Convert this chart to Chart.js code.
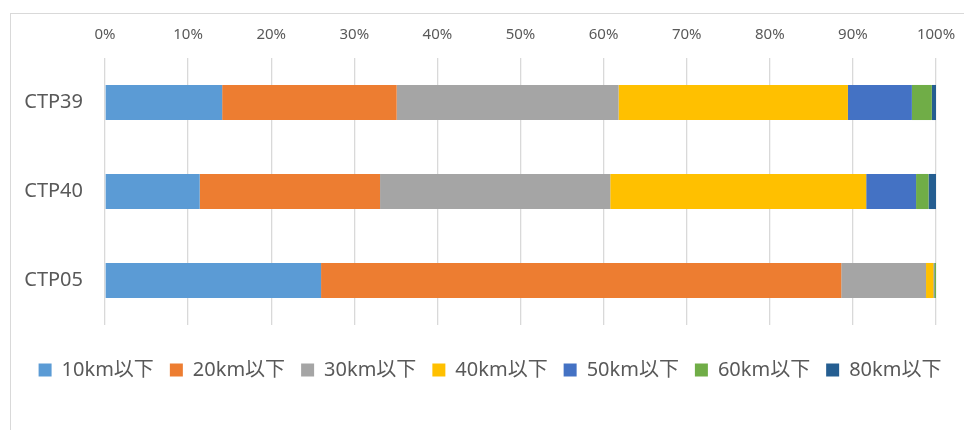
<!DOCTYPE html>
<html>
<head>
<meta charset="utf-8">
<script src="https://cdn.jsdelivr.net/npm/chart.js@4"></script>
<style>
  html, body { margin: 0; padding: 0; background: #fff; overflow: hidden; }
  .frame { position: absolute; left: 10px; top: 13px; width: 1000px; height: 500px; border: 1px solid #d9d9d9; }
  .wrap { position: absolute; left: 0; top: 0; width: 964px; height: 430px; }
</style>
</head>
<body>
<div class="frame"></div>
<div class="wrap"><canvas id="chart" width="964" height="430"></canvas></div>
<script>
const categories = ['CTP39', 'CTP40', 'CTP05'];
const seriesNames = ['10km以下', '20km以下', '30km以下', '40km以下', '50km以下', '60km以下', '80km以下'];
const km10 = [14.1, 11.4, 26.0];
const km20 = [21.0, 21.7, 62.6];
const km30 = [26.7, 27.7, 10.2];
const km40 = [27.6, 30.8, 0.9];
const km50 = [7.7, 6.0, 0.1];
const km60 = [2.4, 1.5, 0.2];
const km80 = [0.5, 0.9, 0];
const tickValues = [0, 10, 20, 30, 40, 50, 60, 70, 80, 90, 100];
const colors = ['#5b9bd5', '#ed7d31', '#a5a5a5', '#ffc000', '#4472c4', '#70ad47', '#255e91'];

const font = "'Noto Sans', 'Noto Sans CJK JP', sans-serif";
const textColor = '#595959';

const values = [km10, km20, km30, km40, km50, km60, km80];
const datasets = values.map(function (data, i) {
	return {
		label: seriesNames[i],
		data: data,
		backgroundColor: colors[i],
		borderWidth: 0,
		barPercentage: 0.4,
		categoryPercentage: 0.985,
		xAxisID: 'x',
		yAxisID: 'y',
	};
});

new Chart(document.getElementById('chart'), {
	type: 'bar',
	data: {
		labels: categories,
		datasets: datasets,
	},
	options: {
		indexAxis: 'y',
		responsive: false,
		animation: false,
		layout: {
			padding: { left: 16, right: 0, top: 0, bottom: 40 },
		},
		scales: {
			x: {
				position: 'top',
				stacked: true,
				min: 0,
				max: 100,
				afterBuildTicks: (scale) => {
					scale.ticks = tickValues.map((v) => ({ value: v }));
				},
				afterFit: (scale) => {
					scale.height = 58;
					scale.paddingLeft = 0;
					scale.paddingRight = 0;
				},
				ticks: {
					padding: 14,
					color: textColor,
					font: { family: font, size: 15 },
					callback: (v) => v + '%',
				},
				grid: {
					color: '#d9d9d9',
					lineWidth: 1.3,
					drawTicks: false,
				},
				border: { display: false },
			},
			y: {
				stacked: true,
				afterFit: (scale) => {
					scale.width = 89;
				},
				ticks: {
					padding: 22,
					color: textColor,
					font: { family: font, size: 20 },
				},
				grid: { display: false, drawTicks: false },
				border: { display: false },
			},
			yR: {
				type: 'linear',
				position: 'right',
				afterFit: (scale) => {
					scale.width = 28;
				},
				ticks: { display: false },
				grid: { display: false, drawTicks: false },
				border: { display: false },
			},
			xB: {
				type: 'linear',
				position: 'bottom',
				afterFit: (scale) => {
					scale.height = 19;
				},
				ticks: { display: false },
				grid: { display: false, drawTicks: false },
				border: { display: false },
			},
		},
		plugins: {
			legend: {
				position: 'bottom',
				labels: {
					boxWidth: 13,
					boxHeight: 13,
					padding: 16,
					color: textColor,
					font: { family: font, size: 20 },
				},
			},
			tooltip: { enabled: false },
		},
	},
});
</script>
</body>
</html>
